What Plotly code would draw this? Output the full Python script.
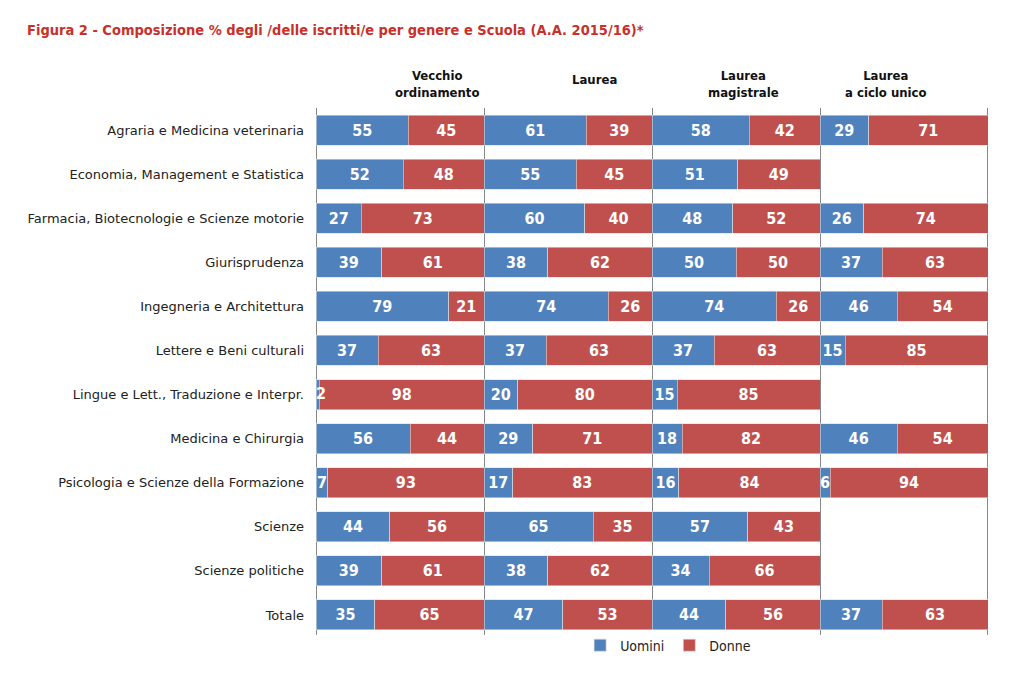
import plotly.graph_objects as go
from plotly.subplots import make_subplots

categories = [
    "Agraria e Medicina veterinaria",
    "Economia, Management e Statistica",
    "Farmacia, Biotecnologie e Scienze motorie",
    "Giurisprudenza",
    "Ingegneria e Architettura",
    "Lettere e Beni culturali",
    "Lingue e Lett., Traduzione e Interpr.",
    "Medicina e Chirurgia",
    "Psicologia e Scienze della Formazione",
    "Scienze",
    "Scienze politiche",
    "Totale",
]

panels = ["Vecchio<br>ordinamento", "Laurea", "Laurea<br>magistrale", "Laurea<br>a ciclo unico"]

uomini_vo = [55, 52, 27, 39, 79, 37, 2, 56, 7, 44, 39, 35]
donne_vo = [45, 48, 73, 61, 21, 63, 98, 44, 93, 56, 61, 65]
uomini_l = [61, 55, 60, 38, 74, 37, 20, 29, 17, 65, 38, 47]
donne_l = [39, 45, 40, 62, 26, 63, 80, 71, 83, 35, 62, 53]
uomini_lm = [58, 51, 48, 50, 74, 37, 15, 18, 16, 57, 34, 44]
donne_lm = [42, 49, 52, 50, 26, 63, 85, 82, 84, 43, 66, 56]
uomini_lcu = [29, None, 26, 37, 46, 15, None, 46, 6, None, None, 37]
donne_lcu = [71, None, 74, 63, 54, 85, None, 54, 94, None, None, 63]

uomini = [uomini_vo, uomini_l, uomini_lm, uomini_lcu]
donne = [donne_vo, donne_l, donne_lm, donne_lcu]

BLUE = "#4F81BD"
RED = "#C0504D"
COND = "DejaVu Sans Condensed, sans-serif"
NUMFONT = dict(family=COND, size=16, color="white", weight="bold")

fig = make_subplots(rows=1, cols=4, shared_yaxes=True, horizontal_spacing=0)

for i in range(4):
    for name, vals, col in (("Uomini", uomini[i], BLUE), ("Donne", donne[i], RED)):
        is_u = name == "Uomini"
        fig.add_trace(
            go.Bar(
                y=categories, x=vals, name=name, orientation="h",
                marker=dict(color=col, line=dict(color="#dcdcdc", width=0.6)),
                text=[("" if v is None or (is_u and v < 5) else str(v)) for v in vals],
                textposition="inside", insidetextanchor="middle",
                textangle=0, constraintext="none", cliponaxis=False,
                textfont=NUMFONT, width=0.68,
                showlegend=(i == 0), legendgroup=name,
                hoverinfo="skip",
            ),
            row=1, col=i + 1,
        )
    # very small male shares: label placed just right of the bar start
    small_y = [c for c, v in zip(categories, uomini[i]) if v is not None and v < 5]
    small_t = [str(v) for v in uomini[i] if v is not None and v < 5]
    if small_y:
        fig.add_trace(
            go.Scatter(
                y=small_y, x=[0] * len(small_y), mode="text", text=small_t,
                textposition="middle right", textfont=NUMFONT,
                showlegend=False, hoverinfo="skip", cliponaxis=False,
            ),
            row=1, col=i + 1,
        )
    fig.update_xaxes(
        range=[0, 100], showticklabels=False, showgrid=False, zeroline=False,
        showline=False, fixedrange=True, row=1, col=i + 1,
    )
    xr = "x" if i == 0 else f"x{i + 1}"
    fig.add_shape(type="line", xref=xr, x0=0, x1=0, yref="paper", y0=0.004, y1=1,
                  line=dict(color="#111", width=1), layer="below")
    if i == 3:
        fig.add_shape(type="line", xref=xr, x0=100, x1=100, yref="paper", y0=0.004, y1=1,
                      line=dict(color="#111", width=1), layer="below")

fig.update_yaxes(
    autorange="reversed", showgrid=False, ticks="", ticklabelstandoff=11,
    fixedrange=True,
    tickfont=dict(family="DejaVu Sans, sans-serif", size=13, color="#222"),
)

header_x = [437, 594, 743, 886]
header_y = [84, 80, 84, 84]
for i, h in enumerate(panels):
    fig.add_annotation(
        text=h, x=(header_x[i] - 316) / 672, xref="paper", xanchor="center",
        y=1 + (108 - header_y[i]) / 529, yref="paper",
        yanchor="middle", showarrow=False, align="center",
        font=dict(family=COND, size=13, color="#111", weight="bold"),
    )

fig.update_layout(
    barmode="stack",
    width=1031, height=678,
    margin=dict(l=316, r=43, t=108, b=41),
    paper_bgcolor="white", plot_bgcolor="white",
    title=dict(
        text="Figura 2 - Composizione % degli /delle iscritti/e per genere e Scuola (A.A. 2015/16)*",
        x=27 / 1031, xanchor="left", y=1 - 30 / 678, yanchor="middle",
        font=dict(family=COND, size=14.5, color="#C8302A", weight="bold"),
    ),
    legend=dict(
        orientation="h", x=0.524, xanchor="center", y=0.014, yanchor="top",
        font=dict(family=COND, size=14, color="#222"),
        itemwidth=30, traceorder="normal",
    ),
    bargap=0.32,
)

fig.write_html(
    "out.html",
    config={"displayModeBar": False},
    post_script="document.body.style.margin='0';document.body.style.overflow='hidden';",
)
